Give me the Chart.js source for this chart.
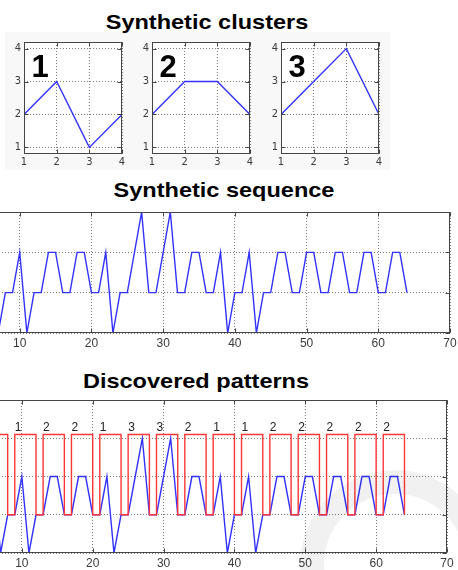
<!DOCTYPE html>
<html>
<head>
  <meta charset="UTF-8">
  <title>Synthetic clusters</title>
  <script src="https://cdn.jsdelivr.net/npm/chart.js"></script>
  <style>
    body { margin: 0; width: 458px; height: 570px; position: relative; overflow: hidden; background: #fff;
           font-family: "Liberation Sans", Arial, sans-serif; }
    .title { position: absolute; font-weight: bold; font-size: 21px; line-height: 21px; color: #000;
             white-space: nowrap; transform: translateX(-50%) scaleX(1.12); }
    .figbg { position: absolute; left: 5px; top: 32px; width: 385px; height: 138px; background: #f8f8f8; }
    .mark { position: absolute; border-radius: 50%; pointer-events: none; }
    canvas { position: absolute; }
  </style>
</head>
<body>
  <div class="figbg"></div>
  <div class="title" style="left:207px; top:11px">Synthetic clusters</div>
  <div class="title" style="left:224px; top:179px">Synthetic sequence</div>
  <div class="title" style="left:196px; top:370px">Discovered patterns</div>

  <canvas id="c1" width="132" height="150" style="left:0px; top:28px"></canvas>
  <canvas id="c2" width="132" height="150" style="left:128px; top:28px"></canvas>
  <canvas id="c3" width="132" height="150" style="left:257px; top:28px"></canvas>
  <canvas id="seq" width="522" height="153" style="left:-62px; top:202px"></canvas>
  <canvas id="pat" width="516" height="185" style="left:-59px; top:390px"></canvas>

  <!-- faint watermark in the lower right corner -->
  <div class="mark" style="left:300px; top:470px; width:190px; height:190px; border:24px solid rgba(0,0,0,0.055); box-sizing:border-box"></div>

  <script>
    // cluster prototypes
    const clusterX = [1, 2, 3, 4];
    const cluster1 = [2, 3, 1, 2];
    const cluster2 = [2, 3, 3, 2];
    const cluster3 = [2, 3, 4, 2];
    const clusterTicks = [1, 2, 3, 4];

    // synthetic sequence, x = 1..64
    const sequence = [
      2, 3, 3, 2,  2, 3, 1, 2,  2, 3, 1, 2,  2, 3, 3, 2,
      2, 3, 3, 2,  2, 3, 1, 2,  2, 3, 4, 2,  2, 3, 4, 2,
      2, 3, 3, 2,  2, 3, 1, 2,  2, 3, 1, 2,  2, 3, 3, 2,
      2, 3, 3, 2,  2, 3, 3, 2,  2, 3, 3, 2,  2, 3, 3, 2
    ];
    const seqXTicks = [0, 10, 20, 30, 40, 50, 60, 70];
    const seqYTicks = [1, 2, 3, 4];

    // discovered patterns
    const patternStart = [1, 5, 9, 13, 17, 21, 25, 29, 33, 37, 41, 45, 49, 53, 57, 61];
    const patternEnd = [4, 8, 12, 16, 20, 24, 28, 32, 36, 40, 44, 48, 52, 56, 60, 64];
    const patternId = [2, 1, 1, 2, 2, 1, 3, 3, 2, 1, 1, 2, 2, 2, 2, 2];
    const patYTicks = [1, 2, 3, 4, 5];
    const patLow = 2, patHigh = 4.1;

    Chart.defaults.font.family = "'Liberation Sans', Arial, sans-serif";
    Chart.defaults.color = '#333';

    const BLUE = 'rgb(50,50,255)';
    const RED = 'rgb(255,55,55)';

    // white axes area + MATLAB style box with inward ticks
    const matlabBox = {
      id: 'matlabBox',
      beforeDraw(chart) {
        const { ctx, chartArea: a } = chart;
        ctx.save();
        ctx.fillStyle = '#fff';
        ctx.fillRect(a.left, a.top, a.right - a.left, a.bottom - a.top);
        ctx.restore();
      },
      afterDraw(chart) {
        const { ctx, chartArea: a, scales: { x, y } } = chart;
        const L = Math.round(a.left) + 0.5, R = Math.round(a.right) - 0.5;
        const T = Math.round(a.top) + 0.5, B = Math.round(a.bottom) - 0.5;
        ctx.save();
        ctx.strokeStyle = '#454545';
        ctx.lineWidth = 1;
        ctx.strokeRect(L, T, R - L, B - T);
        ctx.beginPath();
        x.ticks.forEach(t => {
          const p = Math.round(x.getPixelForValue(t.value)) + 0.5;
          ctx.moveTo(p, B); ctx.lineTo(p, B - 4);
          ctx.moveTo(p, T); ctx.lineTo(p, T + 4);
        });
        y.ticks.forEach(t => {
          const p = Math.round(y.getPixelForValue(t.value)) + 0.5;
          ctx.moveTo(L, p); ctx.lineTo(L + 4, p);
          ctx.moveTo(R, p); ctx.lineTo(R - 4, p);
        });
        ctx.stroke();
        ctx.restore();
      }
    };

    function axes(xMin, xMax, xTicks, yMin, yMax, yTicks, opts) {
      const grid = { color: '#7a7a7a', lineWidth: 1, drawTicks: false };
      const border = { display: false, dash: [1, 2] };
      return {
        x: {
          type: 'linear', min: xMin, max: xMax,
          afterBuildTicks: s => { s.ticks = xTicks.map(v => ({ value: v })); },
          afterFit: s => { s.height = opts.xHeight; },
          grid, border,
          ticks: { padding: opts.xPad, font: opts.font, color: '#3a3a3a' }
        },
        y: {
          type: 'linear', min: yMin, max: yMax,
          afterBuildTicks: s => { s.ticks = yTicks.map(v => ({ value: v })); },
          afterFit: s => { s.width = opts.yWidth; },
          grid, border,
          ticks: { display: opts.showY, padding: 3, font: opts.font, color: '#3a3a3a' }
        }
      };
    }

    // big cluster number in the upper left of each small plot
    const clusterNumber = {
      id: 'clusterNumber',
      afterDatasetsDraw(chart, args, o) {
        const { ctx, scales: { x, y } } = chart;
        ctx.save();
        ctx.font = "bold 31px 'Liberation Sans', Arial, sans-serif";
        ctx.fillStyle = '#000';
        ctx.textAlign = 'left';
        ctx.textBaseline = 'alphabetic';
        ctx.fillText(o.text, x.getPixelForValue(1.23), y.getPixelForValue(3.13));
        ctx.restore();
      }
    };

    function clusterChart(id, values, num) {
      new Chart(document.getElementById(id), {
        type: 'line',
        data: {
          datasets: [{
            data: clusterX.map((v, i) => ({ x: v, y: values[i] })),
            borderColor: BLUE, borderWidth: 1.4, pointRadius: 0, tension: 0
          }]
        },
        options: {
          responsive: false, animation: false, devicePixelRatio: 1,
          layout: { padding: { top: 14, right: 10, left: 0, bottom: 0 } },
          plugins: { legend: { display: false }, tooltip: { enabled: false }, clusterNumber: { text: num } },
          scales: axes(1, 4, clusterTicks, 0.8, 4.2, clusterTicks, {
            xHeight: 24, yWidth: 24, xPad: 2, showY: true,
            font: { size: 11, family: "'Liberation Sans Narrow', 'DejaVu Sans Condensed', 'Liberation Sans', sans-serif" }
          })
        },
        plugins: [matlabBox, clusterNumber]
      });
    }

    clusterChart('c1', cluster1, '1');
    clusterChart('c2', cluster2, '2');
    clusterChart('c3', cluster3, '3');

    const seqPoints = sequence.map((v, i) => ({ x: i + 1, y: v }));

    new Chart(document.getElementById('seq'), {
      type: 'line',
      data: {
        datasets: [{ data: seqPoints, borderColor: BLUE, borderWidth: 1.4, pointRadius: 0, tension: 0 }]
      },
      options: {
        responsive: false, animation: false, devicePixelRatio: 1,
        layout: { padding: { top: 10, right: 10, left: 10, bottom: 0 } },
        plugins: { legend: { display: false }, tooltip: { enabled: false } },
        scales: axes(0, 70, seqXTicks, 1, 4, seqYTicks, {
          xHeight: 22, yWidth: 0, xPad: 3, showY: false, font: { size: 12 }
        })
      },
      plugins: [matlabBox]
    });

    // red pattern outline built from the pattern segments
    const redPoints = [];
    patternStart.forEach((s, i) => {
      redPoints.push({ x: s, y: patLow }, { x: s, y: patHigh },
                     { x: patternEnd[i], y: patHigh }, { x: patternEnd[i], y: patLow });
    });

    const patternLabels = {
      id: 'patternLabels',
      afterDatasetsDraw(chart) {
        const { ctx, scales: { x, y } } = chart;
        ctx.save();
        ctx.font = "12px 'Liberation Sans', Arial, sans-serif";
        ctx.fillStyle = '#222';
        ctx.textAlign = 'left';
        ctx.textBaseline = 'alphabetic';
        patternStart.forEach((s, i) => {
          ctx.fillText(String(patternId[i]), x.getPixelForValue(s), y.getPixelForValue(4.2));
        });
        ctx.restore();
      }
    };

    new Chart(document.getElementById('pat'), {
      type: 'line',
      data: {
        datasets: [
          { data: seqPoints, borderColor: BLUE, borderWidth: 1.4, pointRadius: 0, tension: 0, order: 2 },
          { data: redPoints, borderColor: RED, borderWidth: 1.4, pointRadius: 0, tension: 0, order: 1 }
        ]
      },
      options: {
        responsive: false, animation: false, devicePixelRatio: 1,
        layout: { padding: { top: 10, right: 10, left: 10, bottom: 0 } },
        plugins: { legend: { display: false }, tooltip: { enabled: false } },
        scales: axes(0, 70, seqXTicks, 1, 5, patYTicks, {
          xHeight: 22, yWidth: 0, xPad: 3, showY: false, font: { size: 12 }
        })
      },
      plugins: [matlabBox, patternLabels]
    });
  </script>
</body>
</html>
